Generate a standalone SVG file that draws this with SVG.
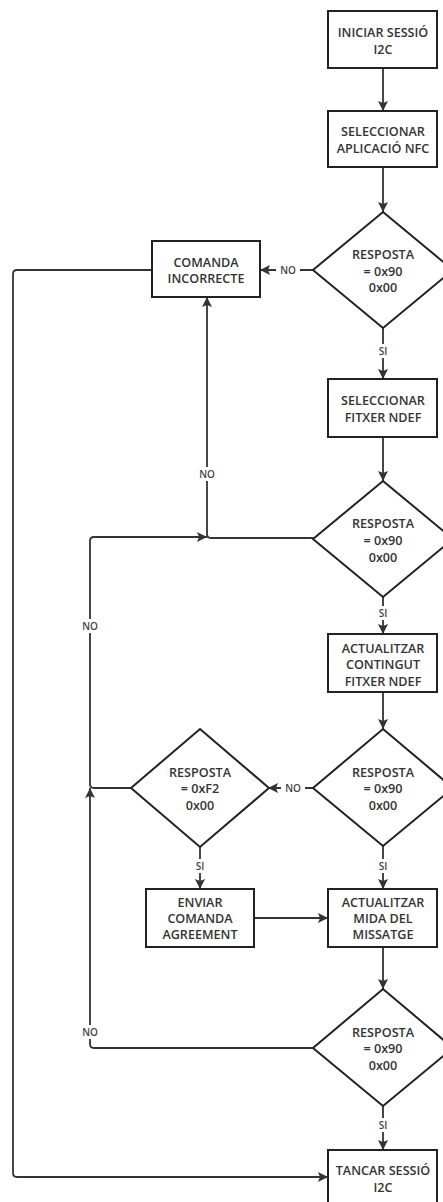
<svg xmlns="http://www.w3.org/2000/svg" width="443" height="1202" viewBox="0 0 443 1202">
<style>
.box{fill:#fff;stroke:#222;stroke-width:2}
.t{font-family:"Open Sans","Noto Sans","Liberation Sans",sans-serif;font-size:12.6px;font-weight:600;fill:#333;text-anchor:middle;dominant-baseline:central}
.c{fill:none;stroke:#333;stroke-width:1.8}
.lb{font-family:"Open Sans","Noto Sans","Liberation Sans",sans-serif;font-size:10px;font-weight:600;fill:#444;text-anchor:middle;dominant-baseline:central}
.bg{fill:#fff}
</style>
<defs>
<marker id="ah" viewBox="0 0 10 10" refX="10" refY="5" markerWidth="10" markerHeight="10" markerUnits="userSpaceOnUse" orient="auto">
<path d="M0,0 L10,5 L0,10 L2,5 z" fill="#333"/>
</marker>
</defs>
<rect width="443" height="1202" fill="#fff"/>
<g id="connectors">
<path class="c" d="M383,68 V111" marker-end="url(#ah)"/>
<path class="c" d="M383,167 V212" marker-end="url(#ah)"/>
<path class="c" d="M313,270 H260" marker-end="url(#ah)"/>
<path class="c" d="M383,328 V379" marker-end="url(#ah)"/>
<path class="c" d="M383,437 V481" marker-end="url(#ah)"/>
<path class="c" d="M313,538 H211 Q207,538 207,534 V297" marker-end="url(#ah)"/>
<path class="c" d="M383,597 V634" marker-end="url(#ah)"/>
<path class="c" d="M383,692 V729" marker-end="url(#ah)"/>
<path class="c" d="M313,788 H268" marker-end="url(#ah)"/>
<path class="c" d="M131,788 H94 Q90,788 90,784 V541 Q90,537 94,537 H207" marker-end="url(#ah)"/>
<path class="c" d="M383,846 V889" marker-end="url(#ah)"/>
<path class="c" d="M200,847 V889" marker-end="url(#ah)"/>
<path class="c" d="M254,918 H328" marker-end="url(#ah)"/>
<path class="c" d="M383,947 V989" marker-end="url(#ah)"/>
<path class="c" d="M313,1048 H94 Q90,1048 90,1044 V788" marker-end="url(#ah)"/>
<path class="c" d="M383,1106 V1150" marker-end="url(#ah)"/>
<path class="c" d="M152,270 H17 Q13,270 13,274 V1173 Q13,1177 17,1177 H328" marker-end="url(#ah)"/>
<rect class="bg" x="276" y="263" width="24" height="13"/><text class="lb" x="288" y="270">NO</text>
<rect class="bg" x="376" y="344" width="14" height="14"/><text class="lb" x="383" y="351">SI</text>
<rect class="bg" x="195" y="467" width="24" height="14"/><text class="lb" x="207" y="474">NO</text>
<rect class="bg" x="376" y="606" width="14" height="14"/><text class="lb" x="383" y="613">SI</text>
<rect class="bg" x="78" y="619" width="24" height="14"/><text class="lb" x="90" y="626">NO</text>
<rect class="bg" x="281" y="781" width="24" height="13"/><text class="lb" x="293" y="788">NO</text>
<rect class="bg" x="376" y="859" width="14" height="14"/><text class="lb" x="383" y="866">SI</text>
<rect class="bg" x="193" y="859" width="14" height="14"/><text class="lb" x="200" y="866">SI</text>
<rect class="bg" x="78" y="1025" width="24" height="14"/><text class="lb" x="90" y="1032">NO</text>
<rect class="bg" x="376" y="1118" width="14" height="14"/><text class="lb" x="383" y="1125">SI</text>
</g>
<g id="n1"><rect class="box" x="328" y="11" width="109" height="57"/><text class="t" x="383" y="32">INICIAR SESSIÓ</text><text class="t" x="383" y="49.5">I2C</text></g>
<g id="n2"><rect class="box" x="328" y="111" width="109" height="56"/><text class="t" x="383" y="131">SELECCIONAR</text><text class="t" x="383" y="148.5">APLICACIÓ NFC</text></g>
<g id="d1"><polygon class="box" points="383,212 453,270 383,328 313,270"/><text class="t" x="383" y="254">RESPOSTA</text><text class="t" x="383" y="271">= 0x90</text><text class="t" x="383" y="287.5">0x00</text></g>
<g id="n3"><rect class="box" x="152" y="241" width="108" height="56"/><text class="t" x="206" y="262">COMANDA</text><text class="t" x="206" y="278.5">INCORRECTE</text></g>
<g id="n4"><rect class="box" x="328" y="379" width="109" height="58"/><text class="t" x="383" y="400">SELECCIONAR</text><text class="t" x="383" y="417">FITXER NDEF</text></g>
<g id="d2"><polygon class="box" points="383,481 453,539 383,597 313,539"/><text class="t" x="383" y="523">RESPOSTA</text><text class="t" x="383" y="540">= 0x90</text><text class="t" x="383" y="557">0x00</text></g>
<g id="n5"><rect class="box" x="328" y="634" width="109" height="58"/><text class="t" x="383" y="648">ACTUALITZAR</text><text class="t" x="383" y="664.5">CONTINGUT</text><text class="t" x="383" y="681">FITXER NDEF</text></g>
<g id="d3"><polygon class="box" points="383,729 453,788 383,846 313,788"/><text class="t" x="383" y="772">RESPOSTA</text><text class="t" x="383" y="788.5">= 0x90</text><text class="t" x="383" y="805">0x00</text></g>
<g id="d4"><polygon class="box" points="200,729 269,788 200,847 131,788"/><text class="t" x="200" y="772">RESPOSTA</text><text class="t" x="200" y="788.5">= 0xF2</text><text class="t" x="200" y="805">0x00</text></g>
<g id="n6"><rect class="box" x="146" y="889" width="108" height="58"/><text class="t" x="200" y="902">ENVIAR</text><text class="t" x="200" y="918">COMANDA</text><text class="t" x="200" y="934">AGREEMENT</text></g>
<g id="n7"><rect class="box" x="328" y="889" width="109" height="58"/><text class="t" x="383" y="902">ACTUALITZAR</text><text class="t" x="383" y="918">MIDA DEL</text><text class="t" x="383" y="934">MISSATGE</text></g>
<g id="d5"><polygon class="box" points="383,989 453,1048 383,1106 313,1048"/><text class="t" x="383" y="1032">RESPOSTA</text><text class="t" x="383" y="1048.5">= 0x90</text><text class="t" x="383" y="1065">0x00</text></g>
<g id="n8"><rect class="box" x="328" y="1150" width="109" height="57"/><text class="t" x="383" y="1170">TANCAR SESSIÓ</text><text class="t" x="383" y="1187">I2C</text></g>
</svg>
